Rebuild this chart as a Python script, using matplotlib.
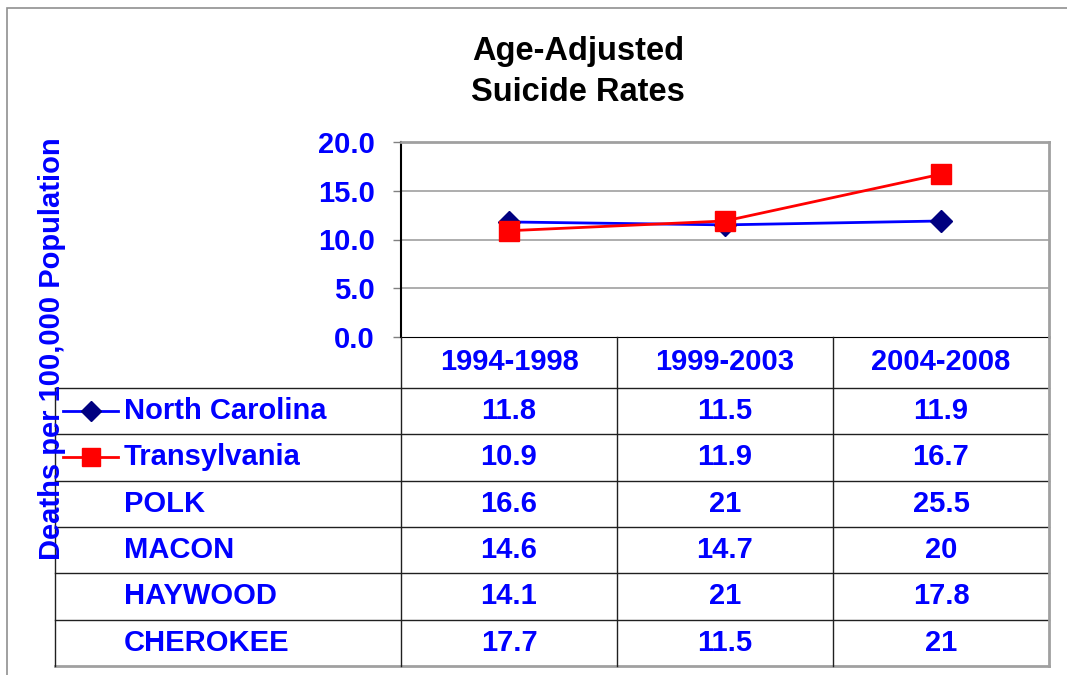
import matplotlib

matplotlib.use("Agg")
import matplotlib.pyplot as plt
from matplotlib.lines import Line2D
from matplotlib.patches import Rectangle

plt.rcParams["font.family"] = ["Liberation Sans", "DejaVu Sans"]
plt.rcParams["font.weight"] = "bold"

periods = ["1994-1998", "1999-2003", "2004-2008"]
north_carolina = [11.8, 11.5, 11.9]
transylvania = [10.9, 11.9, 16.7]
table_rows = ["North Carolina", "Transylvania", "POLK", "MACON", "HAYWOOD", "CHEROKEE"]
table_values = [
    ["11.8", "11.5", "11.9"],
    ["10.9", "11.9", "16.7"],
    ["16.6", "21", "25.5"],
    ["14.6", "14.7", "20"],
    ["14.1", "21", "17.8"],
    ["17.7", "11.5", "21"],
]
y_ticks = [0, 5, 10, 15, 20]

BLUE = "#0000FF"
NAVY = "#000080"
RED = "#FF0000"
GRID = "#A0A0A0"
W, H = 1067, 675


def fig_box(x0, y0, x1, y1):
    """Pixel box (top-left origin) -> figure fraction rect."""
    return [x0 / W, 1 - y1 / H, (x1 - x0) / W, (y1 - y0) / H]


fig = plt.figure(figsize=(W / 100, H / 100), dpi=100)

# outer chart border
fig.patches.append(Rectangle((7 / W, -0.02), 1.2, 1 - 8 / H + 0.02, transform=fig.transFigure,
                             fill=False, edgecolor="#909090", linewidth=1.2))

# plot area
ax = fig.add_axes(fig_box(401, 142, 1049, 337))
x = list(range(len(periods)))
ax.plot(x, north_carolina, color=BLUE, linewidth=2, marker="D", markersize=11,
        markerfacecolor=NAVY, markeredgecolor=NAVY, zorder=3)
ax.plot(x, transylvania, color=RED, linewidth=2, marker="s", markersize=14,
        markerfacecolor=RED, markeredgecolor=RED, zorder=4)
ax.set_xlim(-0.5, len(periods) - 0.5)
ax.set_ylim(0, 20)
ax.set_yticks(y_ticks)
ax.set_yticklabels([f"{v:.1f}" for v in y_ticks])
ax.set_xticks([])
ax.tick_params(axis="y", length=6, width=1, color="#808080", pad=13, labelsize=21,
               labelcolor=BLUE)
for lbl in ax.get_yticklabels():
    lbl.set_fontweight("bold")
for v in y_ticks[1:]:
    ax.axhline(v, color=GRID, linewidth=1.2, zorder=1)
ax.spines["left"].set_color("black")
ax.spines["left"].set_linewidth(1.5)
ax.spines["bottom"].set_color("black")
ax.spines["top"].set_color(GRID)
ax.spines["top"].set_linewidth(2)
ax.spines["right"].set_color(GRID)
ax.spines["right"].set_linewidth(2)

# data table below the plot, same x scale as the plot
tab = fig.add_axes(fig_box(55, 337, 1049, 666))
px_per_unit = (1049 - 401) / 3
left_edge = -0.5 - (401 - 55) / px_per_unit
tab.set_xlim(left_edge, 2.5)
head_h = 1.1
n_rows = len(table_rows)
tab.set_ylim(head_h + n_rows, 0)
tab.axis("off")

line_kw = dict(color="#202020", linewidth=1)
# horizontal lines
for i in range(n_rows + 1):
    yy = head_h + i
    c = GRID if i == n_rows else "#202020"
    lw = 2 if i == n_rows else 1
    tab.plot([left_edge, 2.5], [yy, yy], color=c, linewidth=lw, clip_on=False)
# vertical lines
tab.plot([left_edge, left_edge], [head_h, head_h + n_rows], **line_kw, clip_on=False)
for xv in [-0.5, 0.5, 1.5]:
    tab.plot([xv, xv], [0, head_h + n_rows], **line_kw, clip_on=False)
tab.plot([2.5, 2.5], [0, head_h + n_rows], color=GRID, linewidth=2, clip_on=False)

for j, p in enumerate(periods):
    tab.text(j, head_h / 2, p, ha="center", va="center", color=BLUE, fontsize=21,
             fontweight="bold")

label_x = left_edge + (124 - 55) / px_per_unit
key_x0 = left_edge + (63 - 55) / px_per_unit
key_x1 = left_edge + (118 - 55) / px_per_unit
for i, (name, vals) in enumerate(zip(table_rows, table_values)):
    yc = head_h + i + 0.5
    tab.text(label_x, yc, name, ha="left", va="center", color=BLUE, fontsize=21,
             fontweight="bold")
    for j, v in enumerate(vals):
        tab.text(j, yc, v, ha="center", va="center", color=BLUE, fontsize=21,
                 fontweight="bold")

key_mid = (key_x0 + key_x1) / 2
tab.add_line(Line2D([key_x0, key_x1], [head_h + 0.5] * 2, color=BLUE, linewidth=2))
tab.add_line(Line2D([key_mid], [head_h + 0.5], marker="D", markersize=10,
                    markerfacecolor=NAVY, markeredgecolor=NAVY))
tab.add_line(Line2D([key_x0, key_x1], [head_h + 1.5] * 2, color=RED, linewidth=2))
tab.add_line(Line2D([key_mid], [head_h + 1.5], marker="s", markersize=13,
                    markerfacecolor=RED, markeredgecolor=RED))

fig.text(578 / W, 1 - 72 / H, "Age-Adjusted\nSuicide Rates", ha="center", va="center",
         fontsize=23.5, fontweight="bold", color="black", linespacing=1.38)
fig.text(52 / W, 1 - 349 / H, "Deaths per 100,000 Population", ha="center", va="center",
         rotation=90, fontsize=21, fontweight="bold", color=BLUE)

fig.savefig("out.png", dpi=100)
